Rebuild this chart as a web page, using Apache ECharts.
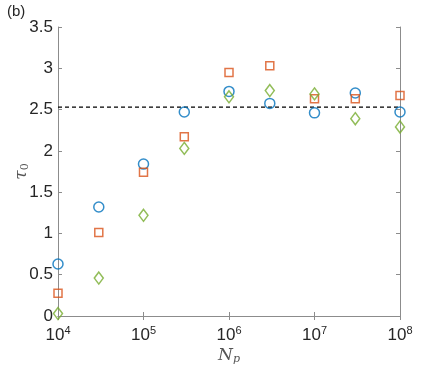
<!DOCTYPE html>
<html><head><meta charset="utf-8">
<script src="https://cdn.jsdelivr.net/npm/echarts@6/dist/echarts.min.js"></script>
<style>html,body{margin:0;padding:0;background:#fff}#c{width:443px;height:368px}</style>
</head><body><div id="c"></div>
<script>
const xValues = [1e4, 3e4, 1e5, 3e5, 1e6, 3e6, 1e7, 3e7, 1e8];
const circleValues = [0.63, 1.32, 1.84, 2.47, 2.72, 2.575, 2.46, 2.70, 2.47];
const squareValues = [0.275, 1.01, 1.74, 2.17, 2.95, 3.03, 2.63, 2.63, 2.67];
const diamondValues = [0.03, 0.46, 1.22, 2.03, 2.655, 2.73, 2.69, 2.39, 2.29];
const refLineX = [1e4, 1e8];
const refLineY = 2.53;
const yTicks = [0, 0.5, 1, 1.5, 2, 2.5, 3, 3.5];

const font = 'Liberation Sans, Arial, sans-serif';
const txt = '#262626';
const axisCol = '#8c8c8c';
const pairs = v => xValues.map((x, i) => [x, v[i]]);

const chart = echarts.init(document.getElementById('c'));
const yLabelFmt = v => yTicks.includes(v) ? String(v) : '';
chart.setOption({
  animation: false,
  graphic: [{type:'text', left: 7, top: 4, style:{text:'(b)', font:'15px ' + font, fill: txt}}],
  grid: {left: 58, right: 43, top: 27, bottom: 52, show: false, containLabel: false, outerBoundsMode: 'none'},
  xAxis: [{
    type: 'log', logBase: 10, min: 1e4, max: 1e8,
    axisLine: {show: true, lineStyle: {color: axisCol, width: 1}},
    axisTick: {show: true, inside: true, length: 4, lineStyle: {color: axisCol}},
    minorTick: {show: false}, splitLine: {show: false},
    axisLabel: {margin: 9, color: txt, fontFamily: font, fontSize: 17,
      formatter: v => '10{s|' + Math.round(Math.log10(v)) + '}',
      rich: {s: {fontSize: 11, verticalAlign: 'top', padding: [0,0,9,0], fontFamily: font, color: txt}}},
    name: '{n|N}{s|p}', nameLocation: 'middle', nameGap: 30, nameMoveOverlap: false,
    nameTextStyle: {rich: {n: {fontSize: 17, fontStyle: 'italic', fontFamily: 'DejaVu Serif, serif', color: '#555'}, s: {fontSize: 11, fontStyle: 'italic', fontFamily: 'DejaVu Serif, serif', color: '#555', padding: [8,0,0,0]}}}
  }, {
    type: 'log', logBase: 10, min: 1e4, max: 1e8, position: 'top',
    axisLine: {show: true, lineStyle: {color: axisCol, width: 1}},
    axisTick: {show: true, inside: true, length: 4, lineStyle: {color: axisCol}},
    axisLabel: {show: false}, splitLine: {show: false}
  }],
  yAxis: [{
    type: 'value', min: 0, max: 3.5, interval: 0.5,
    axisLine: {show: true, lineStyle: {color: axisCol, width: 1}},
    axisTick: {show: true, inside: true, length: 4, lineStyle: {color: axisCol}},
    splitLine: {show: false},
    axisLabel: {margin: 5, color: txt, fontFamily: font, fontSize: 17, formatter: yLabelFmt},
    name: '{t|τ}{s|0}', nameLocation: 'middle', nameGap: 27, nameRotate: 90, nameMoveOverlap: false,
    nameTextStyle: {rich: {t: {fontSize: 17, fontStyle: 'italic', fontFamily: 'DejaVu Serif, serif', color: '#555'}, s: {fontSize: 11, fontFamily: 'DejaVu Serif, serif', color: '#555', padding: [8,0,0,0]}}}
  }, {
    type: 'value', min: 0, max: 3.5, interval: 0.5, position: 'right',
    axisLine: {show: true, lineStyle: {color: axisCol, width: 1}},
    axisTick: {show: true, inside: true, length: 4, lineStyle: {color: axisCol}},
    axisLabel: {show: false}, splitLine: {show: false}
  }],
  series: [
    {type: 'line', data: refLineX.map(x => [x, refLineY]), symbol: 'none',
     lineStyle: {color: '#000', width: 1.3, type: [4, 3]}, z: 1},
    {type: 'scatter', data: pairs(circleValues), symbol: 'circle', symbolSize: 10,
     itemStyle: {color: 'rgba(0,0,0,0)', borderColor: '#0072BD', borderWidth: 1.5}, z: 3},
    {type: 'scatter', data: pairs(squareValues), symbol: 'rect', symbolSize: 8,
     itemStyle: {color: 'rgba(0,0,0,0)', borderColor: '#D95319', borderWidth: 1.5}, z: 3},
    {type: 'scatter', data: pairs(diamondValues), symbol: 'diamond', symbolSize: [9, 12],
     itemStyle: {color: 'rgba(0,0,0,0)', borderColor: '#77AC30', borderWidth: 1.5}, z: 3}
  ]
});
</script></body></html>
